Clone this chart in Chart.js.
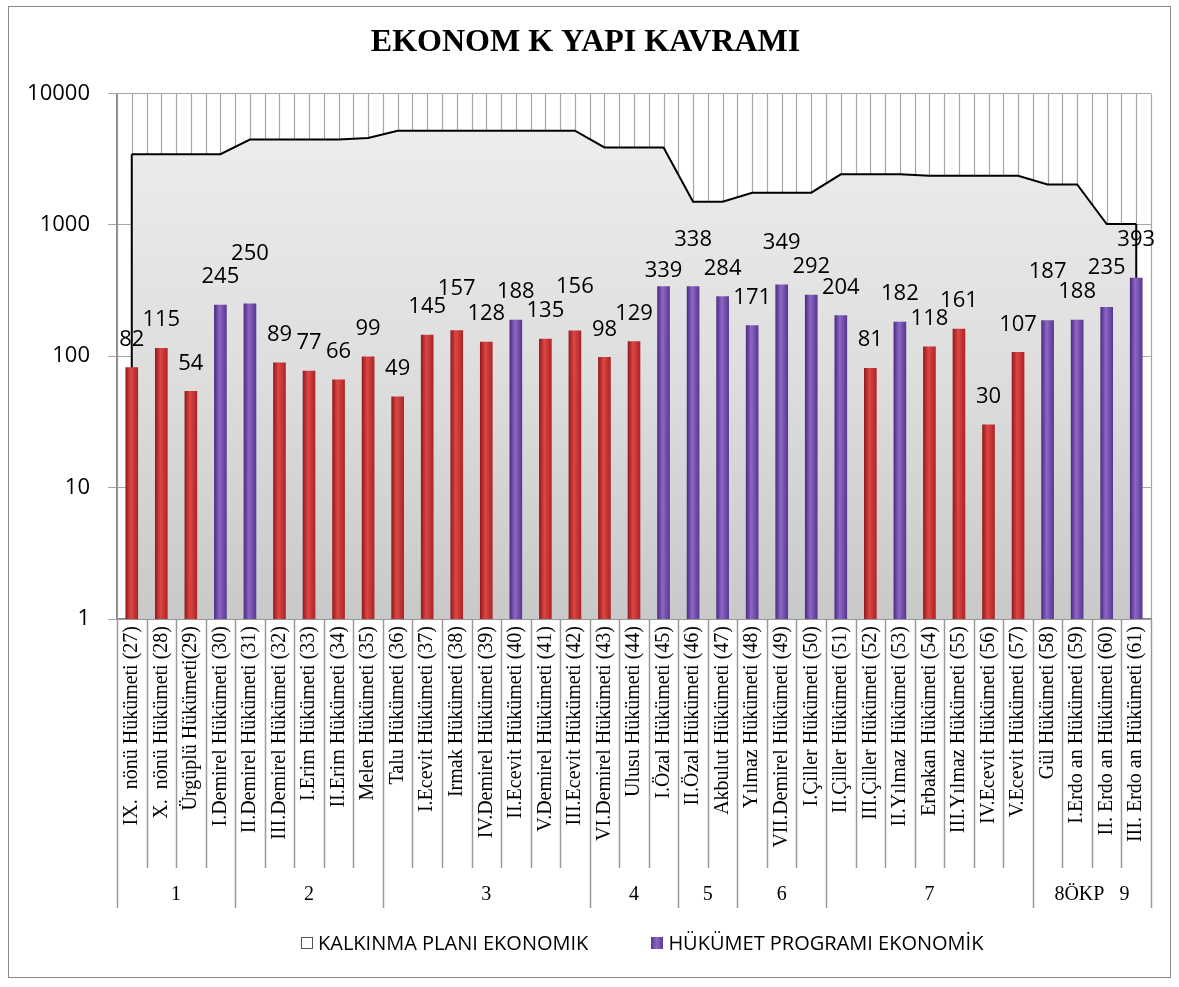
<!DOCTYPE html>
<html>
<head>
<meta charset="utf-8">
<title>EKONOMİK YAPI KAVRAMI</title>
<script src="https://cdn.jsdelivr.net/npm/chart.js@4.4.1/dist/chart.umd.min.js"></script>
<style>
  body { margin: 0; background: #fff; }
  #wrap { position: relative; width: 1179px; height: 987px; }
  #legend { position: absolute; left: 301px; top: 929px; display: flex; gap: 63px; font: 20px "Open Sans", sans-serif; color: #000; }
  #legend .item { display: flex; align-items: center; white-space: nowrap; }
  #legend i { display: inline-block; width: 12px; height: 12px; margin-right: 5px; box-sizing: border-box; }
</style>
</head>
<body>
<div id="wrap">
  <canvas id="chart" width="1179" height="987"></canvas>
  <div id="legend"></div>
</div>
<script>
// hükümet adları (kaynak grafikte eksik glifler boşluk olarak görünüyor)
const governments = [
  "IX.  nönü Hükümeti (27)", "X.  nönü Hükümeti (28)", "Ürgüplü Hükümeti(29)", "I.Demirel Hükümeti (30)",
  "II.Demirel Hükümeti (31)", "III.Demirel Hükümeti (32)", "I.Erim Hükümeti (33)", "II.Erim Hükümeti (34)",
  "Melen Hükümeti (35)", "Talu Hükümeti (36)", "I.Ecevit Hükümeti (37)", "Irmak Hükümeti (38)",
  "IV.Demirel Hükümeti (39)", "II.Ecevit Hükümeti (40)", "V.Demirel Hükümeti (41)", "III.Ecevit Hükümeti (42)",
  "VI.Demirel Hükümeti (43)", "Ulusu Hükümeti (44)", "I.Özal Hükümeti (45)", "II.Özal Hükümeti (46)",
  "Akbulut Hükümeti (47)", "Yılmaz Hükümeti (48)", "VII.Demirel Hükümeti (49)", "I.Çiller Hükümeti (50)",
  "II.Çiller Hükümeti (51)", "III.Çiller Hükümeti (52)", "II.Yılmaz Hükümeti (53)", "Erbakan Hükümeti (54)",
  "III.Yılmaz Hükümeti (55)", "IV.Ecevit Hükümeti (56)", "V.Ecevit Hükümeti (57)", "Gül Hükümeti (58)",
  "I.Erdo an Hükümeti (59)", "II. Erdo an Hükümeti (60)", "III. Erdo an Hükümeti (61)"
];

// hükümet programı: ekonomik kavram sayısı
const programValues = [82, 115, 54, 245, 250, 89, 77, 66, 99, 49, 145, 157, 128, 188, 135, 156, 98, 129,
  339, 338, 284, 171, 349, 292, 204, 81, 182, 118, 161, 30, 107, 187, 188, 235, 393];

// R = kırmızı sütun, P = mor sütun
const barKind = ["R","R","R","P","P","R","R","R","R","R","R","R","R","P","R","R","R","R",
  "P","P","P","P","P","P","P","R","P","R","R","R","R","P","P","P","P"];

// kalkınma planı: ekonomik kavram sayısı (plan dönemine göre)
const planValues = [3450, 3450, 3450, 3450, 4450, 4450, 4450, 4450, 4570, 5200, 5200, 5200, 5200, 5200, 5200, 5200,
  3880, 3880, 3880, 1500, 1500, 1755, 1755, 1755, 2420, 2420, 2420, 2360, 2360, 2360, 2360, 2030, 2030, 1014, 1014];

// plan dönemleri (alt satır)
const groupNames = ["1", "2", "3", "4", "5", "6", "7", "8ÖKP   9"];
const groupSizes = [4, 5, 7, 3, 2, 3, 7, 4];

const yTicks = [1, 10, 100, 1000, 10000];

// etiketlerin ek yukarı kaydırması (çakışmaları önlemek için)
const labelLift = [0, 0, 0, 0, 22, 0, 0, 0, 0, 0, 0, 14, 0, 0, 0, 16, 0, 0,
  -12, 19, 0, 0, 14, 0, 0, 0, 0, 0, 0, 0, 0, 21, 0, 12, 10];

const serif = '"Liberation Serif", "Times New Roman", serif';
const sans = '"Open Sans", sans-serif';

function barFill(c) {
  const purple = barKind[c.dataIndex] === "P";
  const cols = purple ? ["#4d2c80", "#8c67c6", "#5a3891"] : ["#961b1b", "#dc4646", "#ad2626"];
  const x = c.chart.scales.x;
  if (!x || c.dataIndex === undefined) return cols[1];
  const cx = x.getPixelForValue(c.dataIndex);
  if (!Number.isFinite(cx)) return cols[1];
  const g = c.chart.ctx.createLinearGradient(cx - 6, 0, cx + 6, 0);
  g.addColorStop(0, cols[0]);
  g.addColorStop(0.42, cols[1]);
  g.addColorStop(1, cols[2]);
  return g;
}

function areaFill(c) {
  const a = c.chart.chartArea;
  if (!a || !Number.isFinite(a.top) || !Number.isFinite(a.bottom)) return "#dedede";
  const g = c.chart.ctx.createLinearGradient(0, a.top, 0, a.bottom);
  g.addColorStop(0, "#efefef");
  g.addColorStop(0.5, "#dfdfdf");
  g.addColorStop(1, "#c9c9c9");
  return g;
}

// beyaz zemin, çerçeve ve dikey çizgili desen
const backdrop = {
  id: "backdrop",
  beforeDraw(chart) {
    const { ctx, chartArea: a } = chart;
    const x = chart.scales.x;
    ctx.save();
    ctx.fillStyle = "#fff";
    ctx.fillRect(0, 0, chart.width, chart.height);
    ctx.strokeStyle = "#8a8a8a";
    ctx.lineWidth = 1;
    ctx.strokeRect(8.5, 6.5, 1162, 971);
    const half = (x.getPixelForValue(1) - x.getPixelForValue(0)) / 2;
    ctx.strokeStyle = "#a5a5a5";
    ctx.lineWidth = 1.2;
    for (let px = a.left; px <= a.right + 1; px += half) {
      ctx.beginPath();
      ctx.moveTo(Math.round(px) + 0.5, a.top);
      ctx.lineTo(Math.round(px) + 0.5, a.bottom);
      ctx.stroke();
    }
    ctx.restore();
  }
};

// alanın iki ucundaki dikey kenar çizgileri
const areaEdges = {
  id: "areaEdges",
  afterDatasetDraw(chart, args) {
    if (args.index !== 1) return;
    const pts = args.meta.data;
    const ctx = chart.ctx;
    ctx.save();
    ctx.strokeStyle = "#000";
    ctx.lineWidth = 2;
    [pts[0], pts[pts.length - 1]].forEach(p => {
      ctx.beginPath();
      ctx.moveTo(p.x, p.y);
      ctx.lineTo(p.x, chart.chartArea.bottom);
      ctx.stroke();
    });
    ctx.restore();
  }
};

// sütun değer etiketleri
const valueLabels = {
  id: "valueLabels",
  afterDatasetsDraw(chart) {
    const meta = chart.getDatasetMeta(0);
    const ctx = chart.ctx;
    ctx.save();
    ctx.font = "22px " + sans;
    ctx.fillStyle = "#000";
    ctx.textAlign = "center";
    ctx.textBaseline = "middle";
    meta.data.forEach((bar, i) => {
      ctx.fillText(String(programValues[i]), bar.x, bar.y - 28 - labelLift[i]);
    });
    ctx.restore();
  }
};

// kategori ayırıcıları ve plan dönemi satırı
const groupRow = {
  id: "groupRow",
  afterDraw(chart) {
    const { ctx, chartArea: a } = chart;
    const x = chart.scales.x;
    const step = x.getPixelForValue(1) - x.getPixelForValue(0);
    const left = x.getPixelForValue(0) - step / 2;
    const ends = new Set([0]);
    let acc = 0;
    groupSizes.forEach(s => { acc += s; ends.add(acc); });
    ctx.save();
    ctx.strokeStyle = "#9a9a9a";
    ctx.lineWidth = 1.5;
    for (let i = 0; i <= governments.length; i++) {
      const px = Math.round(left + i * step) + 0.5;
      ctx.beginPath();
      ctx.moveTo(px, a.bottom);
      ctx.lineTo(px, a.bottom + (ends.has(i) ? 289 : 249));
      ctx.stroke();
    }
    ctx.fillStyle = "#000";
    ctx.font = "20px " + serif;
    ctx.textAlign = "center";
    ctx.textBaseline = "middle";
    let start = 0;
    groupNames.forEach((name, g) => {
      const cx = left + (start + groupSizes[g] / 2) * step;
      ctx.fillText(name, cx, a.bottom + 276);
      start += groupSizes[g];
    });
    ctx.restore();
  }
};

const chart = new Chart(document.getElementById("chart"), {
  type: "bar",
  data: {
    labels: governments,
    datasets: [
      {
        type: "bar",
        label: "HÜKÜMET PROGRAMI EKONOMİK",
        data: programValues,
        order: 1,
        backgroundColor: barFill,
        borderWidth: 0,
        barThickness: 12
      },
      {
        type: "line",
        label: "KALKINMA PLANI EKONOMIK",
        data: planValues,
        order: 2,
        borderColor: "#000",
        borderWidth: 2,
        pointRadius: 0,
        tension: 0,
        fill: "start",
        backgroundColor: areaFill
      }
    ]
  },
  options: {
    responsive: false,
    animation: false,
    layout: { padding: { left: 20, right: 28, top: 14, bottom: 0 } },
    plugins: {
      legend: { display: false },
      tooltip: { enabled: false },
      title: {
        display: true,
        text: "EKONOM K YAPI KAVRAMI",
        color: "#000",
        font: { family: serif, size: 32, weight: "bold" },
        padding: { top: 10, bottom: 31 }
      }
    },
    scales: {
      x: {
        grid: { display: true, drawOnChartArea: false, drawTicks: false, color: "rgba(0,0,0,0)" },
        border: { display: true, color: "#8c8c8c", width: 1.5 },
        ticks: {
          autoSkip: false, maxRotation: 90, minRotation: 90, padding: 7, color: "#000",
          font: { family: serif, size: 20 }
        },
        afterFit(scale) { scale.height = 368; }
      },
      y: {
        type: "logarithmic",
        min: 1,
        max: 10000,
        grid: { color: "#a6a6a6", lineWidth: 1, tickLength: 9, drawTicks: true },
        border: { display: true, color: "#8c8c8c", width: 1.5 },
        ticks: { color: "#000", padding: 18, font: { family: sans, size: 22 }, callback: v => String(v) },
        afterBuildTicks(scale) { scale.ticks = yTicks.map(v => ({ value: v })); },
        afterFit(scale) { scale.width = 97; }
      }
    }
  },
  plugins: [backdrop, areaEdges, valueLabels, groupRow]
});

// açıklama (lejant)
const legend = document.getElementById("legend");
[
  { label: chart.data.datasets[1].label, box: "background:#fff;border:1px solid #555;" },
  { label: chart.data.datasets[0].label, box: "background:linear-gradient(90deg,#5a3891,#8c67c6,#5a3891);" }
].forEach(it => {
  const s = document.createElement("span");
  s.className = "item";
  s.innerHTML = '<i style="' + it.box + '"></i>' + it.label;
  legend.appendChild(s);
});
</script>
</body>
</html>
